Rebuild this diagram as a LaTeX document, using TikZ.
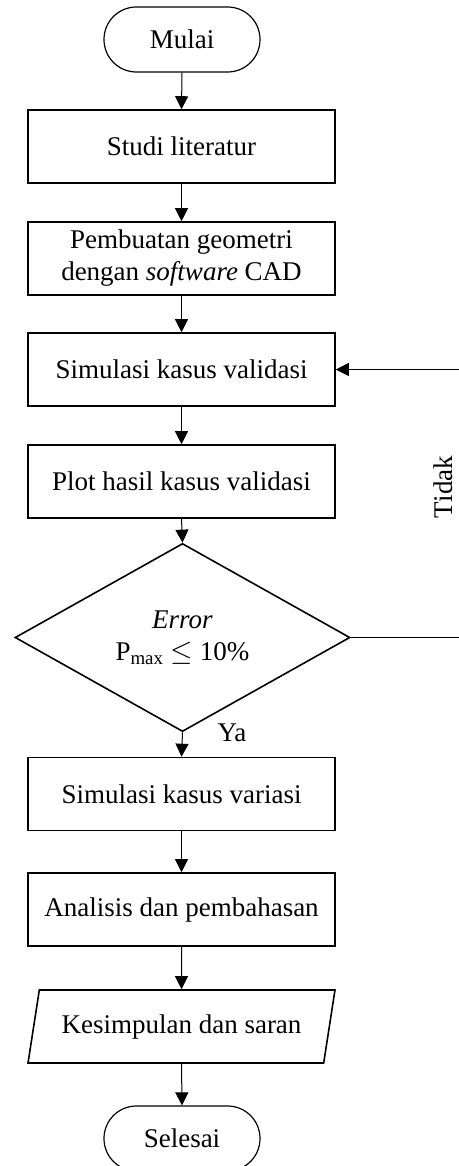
\documentclass[tikz,border=0pt]{standalone}
\usepackage{fontspec}
\setmainfont{Liberation Serif}
\usetikzlibrary{arrows.meta,shapes.geometric}
\begin{document}
\begin{tikzpicture}[x=0.5pt,y=-0.5pt,
  every node/.style={font=\fontsize{13.5pt}{16pt}\selectfont},
  proc/.style={draw, line width=0.8pt, minimum width=153.5pt, minimum height=36.5pt, inner sep=0pt, align=center},
  term/.style={draw, line width=0.6pt, rounded corners=16.2pt, minimum width=78pt, minimum height=32.5pt, inner sep=0pt},
  dec/.style={draw, diamond, line width=0.8pt, minimum width=167.5pt, minimum height=79.5pt, inner sep=0pt, align=center},
  io/.style={draw, trapezium, trapezium left angle=68.7, trapezium right angle=111.3, trapezium stretches=true, line width=0.8pt, minimum width=153.5pt, minimum height=36.5pt, inner sep=0pt},
  arr/.style={line width=0.5pt, -{Triangle[length=6.5pt,width=6.5pt]}},
  lbl/.style={inner sep=0pt}
]
\useasboundingbox (0,0) rectangle (459,1166);
\clip (0,0) rectangle (459,1166);
\node[term] (mulai) at (182,39.5) {Mulai};
\node[proc] (studi) at (181.5,146.5) {Studi literatur};
\node[proc] (geo) at (181.5,258.5) {Pembuatan geometri\\dengan \textit{software} CAD};
\node[proc] (val) at (181.5,369.5) {Simulasi kasus validasi};
\node[proc] (plot) at (181.5,481.5) {Plot hasil kasus validasi};
\node[dec] (err) at (182.5,637.5) {\textit{Error}\\P\textsubscript{max} $\leq$ 10\%};
\node[proc] (var) at (181.5,794) {Simulasi kasus variasi};
\node[proc] (ana) at (181.5,909.5) {Analisis dan pembahasan};
\node[io] (kes) at (181.5,1026.5) {Kesimpulan dan saran};
\node[term] (sel) at (182,1138.5) {Selesai};
\coordinate (fb) at (462,500);
\node[lbl] (ya) at (232,733) {Ya};
\node[lbl, rotate=90] (tidak) at (443,487) {Tidak};
\draw[arr] (mulai.south) -- (studi.north);
\draw[arr] (studi.south) -- (geo.north);
\draw[arr] (geo.south) -- (val.north);
\draw[arr] (val.south) -- (plot.north);
\draw[arr] (plot.south) -- (err.north);
\draw[arr] (err.south) -- (var.north);
\draw[arr] (var.south) -- (ana.north);
\draw[arr] (ana.south) -- (kes.north);
\draw[arr] (kes.south) -- (sel.north);
\draw[arr] (err.east) -| (fb) |- (val.east);
\end{tikzpicture}
\end{document}
